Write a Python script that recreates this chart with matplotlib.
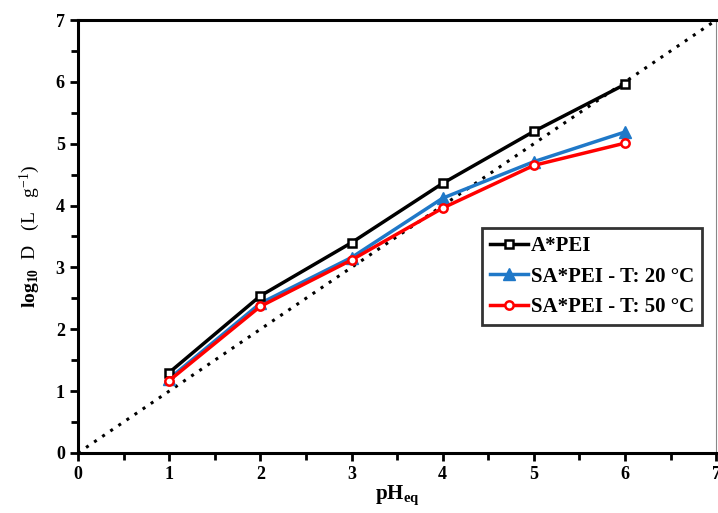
import numpy as np
import matplotlib
matplotlib.use("Agg")
import matplotlib.pyplot as plt
from matplotlib.ticker import MultipleLocator

plt.rcParams['font.family'] = ['Liberation Serif', 'DejaVu Serif']
plt.rcParams['mathtext.fontset'] = 'custom'
plt.rcParams['mathtext.rm'] = 'Liberation Serif'
plt.rcParams['mathtext.bf'] = 'Liberation Serif:bold'
plt.rcParams['mathtext.it'] = 'Liberation Serif:italic'

# pH values and log10 D for each sorbent
ph = [1, 2, 3, 4, 5, 6]
a_pei = [1.30, 2.54, 3.40, 4.36, 5.20, 5.96]
sa_pei_20 = [1.20, 2.42, 3.16, 4.12, 4.71, 5.19]
sa_pei_50 = [1.17, 2.37, 3.12, 3.96, 4.65, 5.01]
diag = [0, 7]

fig = plt.figure(figsize=(7.18, 5.13), dpi=100)
ax = fig.add_axes([0.1086, 0.117, 0.889, 0.844])

ax.plot(diag, diag, color='black', linestyle=(0, (1, 2.2)), linewidth=2.2, zorder=1)
ax.plot(ph, a_pei, color='black', linewidth=2.5, marker='s', markersize=6,
        markerfacecolor='white', markeredgewidth=1.8, label='A*PEI', zorder=3)
ax.plot(ph, sa_pei_20, color='#1f78c8', linewidth=2.5, marker='^', markersize=8,
        label='SA*PEI - T: 20 °C', zorder=2)
ax.plot(ph, sa_pei_50, color='#ff0000', linewidth=2.5, marker='o', markersize=6,
        markerfacecolor='white', markeredgewidth=1.8, label='SA*PEI - T: 50 °C', zorder=4)

ax.set_xlim(0, 7)
ax.set_ylim(0, 7)
ax.xaxis.set_major_locator(MultipleLocator(1))
ax.xaxis.set_minor_locator(MultipleLocator(0.5))
ax.yaxis.set_major_locator(MultipleLocator(1))
ax.yaxis.set_minor_locator(MultipleLocator(0.5))
ax.tick_params(which='both', direction='out', width=2, labelsize=13)
ax.tick_params(which='major', length=6)
ax.tick_params(which='minor', length=5)
for lab in ax.get_xticklabels() + ax.get_yticklabels():
    lab.set_fontweight('bold')

for side in ['left', 'bottom', 'top']:
    ax.spines[side].set_linewidth(2.2)
ax.spines['right'].set_linewidth(0.8)
ax.spines['right'].set_color('#888888')

ax.set_xlabel(r'$\mathbf{pH_{eq}}$', fontsize=15, labelpad=0)
ax.set_ylabel(r'$\mathbf{log_{10}}$  D   (L   g$^{-1}$)', fontsize=14, labelpad=10)

leg = ax.legend(loc='upper left', bbox_to_anchor=(0.633, 0.52),
                prop={'weight': 'bold', 'size': 15}, frameon=True, fancybox=False,
                handlelength=1.8, handletextpad=0.15, borderpad=0.4,
                labelspacing=0.5, borderaxespad=0)
leg.get_frame().set_edgecolor('black')
leg.get_frame().set_linewidth(2)

fig.savefig('out.png', dpi=100)
